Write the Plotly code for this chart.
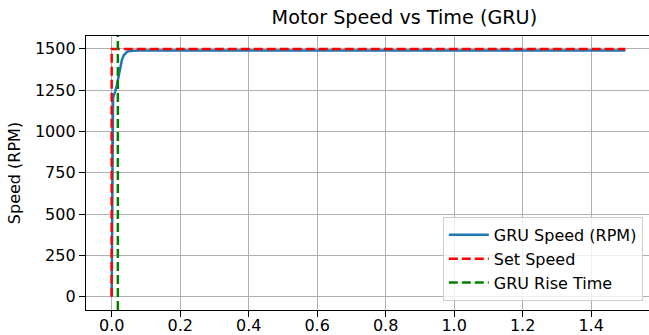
import plotly.graph_objects as go

# Data
time_s = [0.0, 0.001, 0.002, 0.004, 0.007, 0.01, 0.015, 0.02, 0.025, 0.03, 0.035,
          0.04, 0.045, 0.05, 0.06, 0.08, 0.1, 0.2, 0.4, 0.6, 0.8, 1.0, 1.2, 1.4, 1.5]
gru_speed = [0, 600, 1150, 1200, 1225, 1240, 1280, 1340, 1395, 1435, 1460,
             1475, 1482, 1486, 1489, 1490, 1490, 1490, 1490, 1490, 1490, 1490, 1490, 1490, 1490]
set_time = [0.0, 0.0, 1.5]
set_speed = [0, 1500, 1500]
rise_time = 0.018

x_ticks = [0.0, 0.2, 0.4, 0.6, 0.8, 1.0, 1.2, 1.4]
y_ticks = [0, 250, 500, 750, 1000, 1250, 1500]

FONT = "DejaVu Sans"
DASH = "9px,4px"

fig = go.Figure()
fig.add_trace(go.Scatter(x=time_s, y=gru_speed, mode="lines", name="GRU Speed (RPM)",
                         line=dict(color="#1f77b4", width=2.5), legendrank=1))
fig.add_trace(go.Scatter(x=set_time, y=set_speed, mode="lines", name="Set Speed",
                         line=dict(color="#ff0000", width=2.5, dash=DASH), legendrank=2))
fig.add_shape(type="line", xref="x", yref="y domain", x0=rise_time, x1=rise_time, y0=0, y1=1,
              line=dict(color="#008000", width=2.5, dash=DASH),
              name="GRU Rise Time", showlegend=True, legendrank=3)

axis_common = dict(showline=True, linecolor="black", linewidth=1.3, mirror=True,
                   ticks="outside", ticklen=6, tickwidth=1.3, tickcolor="black",
                   showgrid=True, gridcolor="#b0b0b0", gridwidth=1.3, zeroline=False,
                   automargin=False,
                   tickfont=dict(family=FONT, size=16, color="black"))

fig.update_layout(
    width=649, height=335,
    margin=dict(l=86, r=0, t=36, b=25),
    paper_bgcolor="white", plot_bgcolor="white",
    title=dict(text="Motor Speed vs Time (GRU)", x=367/649, xanchor="center", xref="paper",
               y=1 - 17/335, yanchor="middle",
               font=dict(family=FONT, size=19.2, color="black")),
    xaxis=dict(range=[-0.075, 1.569], tickvals=x_ticks,
               ticktext=[f"{v:.1f}" for v in x_ticks], ticklabelstandoff=-5, **axis_common),
    yaxis=dict(range=[-80, 1578], tickvals=y_ticks,
               title=dict(text="Speed (RPM)", font=dict(family=FONT, size=16, color="black"), standoff=10),
               **axis_common),
    legend=dict(x=0.989, y=0.033, xanchor="right", yanchor="bottom",
                bgcolor="rgba(255,255,255,0.8)", bordercolor="#cccccc", borderwidth=1,
                font=dict(family=FONT, size=16, color="black"), itemwidth=40,
                tracegroupgap=0),
    showlegend=True,
)

fig.write_html("out.html", config={"displayModeBar": False},
               post_script="document.body.style.margin='0';")
